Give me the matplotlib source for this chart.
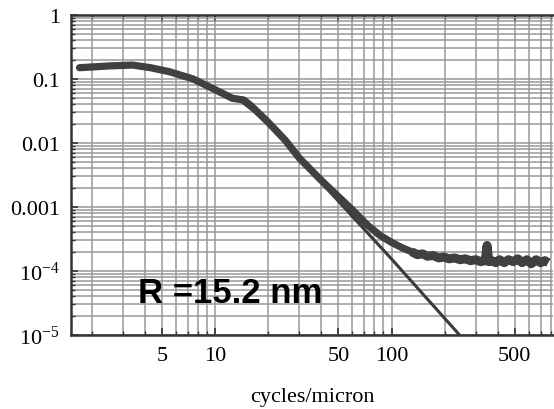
import matplotlib
matplotlib.use("Agg")
from matplotlib import pyplot as plt
from matplotlib.ticker import FixedLocator, NullFormatter

plt.rcParams['font.family'] = ['Liberation Serif', 'DejaVu Serif']
plt.rcParams['mathtext.fontset'] = 'stix'

data_f = [1.7, 2.5, 3.4, 4.3, 5.5, 7.5, 10, 12.5, 14.5, 16, 20, 25, 30, 40, 47, 60, 73, 86, 100, 115, 130]
data_v = [0.15, 0.16, 0.165, 0.15, 0.13, 0.10, 0.068, 0.05, 0.047, 0.038, 0.021, 0.011,
          0.0058, 0.0026, 0.0017, 0.0009, 0.00052, 0.00036, 0.00028, 0.00023, 0.0002]

# noisy floor at high frequency
noise_f = [130, 140, 150, 160, 172, 185, 198, 212, 228, 245, 262, 280, 300, 320, 340, 348, 356,
           370, 390, 410, 435, 460, 490, 520, 550, 585, 620, 660, 700, 740, 775]
noise_v = [2.0e-4, 1.8e-4, 1.85e-4, 1.7e-4, 1.75e-4, 1.6e-4, 1.65e-4, 1.55e-4, 1.6e-4, 1.5e-4,
           1.55e-4, 1.45e-4, 1.5e-4, 1.4e-4, 1.45e-4, 2.5e-4, 1.4e-4, 1.45e-4, 1.35e-4, 1.5e-4,
           1.35e-4, 1.5e-4, 1.4e-4, 1.55e-4, 1.35e-4, 1.5e-4, 1.3e-4, 1.5e-4, 1.35e-4, 1.45e-4, 1.35e-4]

# model fit
fit_f = [1.7, 3.4, 5.5, 7.5, 10, 14, 20, 26.7, 50, 100, 243]
fit_v = [0.15, 0.165, 0.13, 0.10, 0.068, 0.045, 0.021, 0.0081, 0.00123, 0.000154, 1.0e-5]

xticks = [5, 10, 50, 100, 500]
xlabels = ['5', '10', '50', '100', '500']
yticks = [1, 0.1, 0.01, 0.001, 1e-4, 1e-5]
ylabels = ['1', '0.1', '0.01', '0.001', r'$\mathregular{10^{-4}}$', r'$\mathregular{10^{-5}}$']

fig = plt.figure(figsize=(5.54, 4.10), dpi=100)
ax = fig.add_axes([0.128, 0.1805, 0.870, 0.7805])
ax.set_xscale('log')
ax.set_yscale('log')
ax.set_xlim(1.52, 822)
ax.set_ylim(1e-5, 1)

ax.plot(fit_f, fit_v, color='#3a3a3a', lw=2.2, solid_capstyle='butt', zorder=3)
ax.plot(data_f, data_v, color='#404040', lw=5.2, solid_capstyle='round', zorder=4)
ax.plot(noise_f, noise_v, color='#404040', lw=6.5, solid_joinstyle='round',
        solid_capstyle='butt', zorder=4)

ax.xaxis.set_major_locator(FixedLocator(xticks))
ax.set_xticklabels(xlabels)
minor_x = [m * d for d in [1, 10, 100] for m in range(1, 10) if 1.52 < m * d < 822]
ax.xaxis.set_minor_locator(FixedLocator(minor_x))
ax.xaxis.set_minor_formatter(NullFormatter())
ax.set_yticks(yticks)
ax.set_yticklabels(ylabels)
ax.yaxis.set_minor_formatter(NullFormatter())

ax.grid(True, which='both', color='#999999', lw=1.1)
ax.set_axisbelow(True)
ax.tick_params(which='both', direction='in', top=True, right=False, labelsize=16,
               color='#333333', pad=8)
ax.tick_params(which='major', length=5, width=1.2)
ax.tick_params(which='minor', length=3, width=1)
for side in ['top', 'bottom', 'left']:
    ax.spines[side].set_linewidth(1.8)
    ax.spines[side].set_color('#333333')
ax.spines['right'].set_visible(False)

ax.set_xlabel('cycles/micron', fontsize=16, labelpad=16)
ax.text(3.65, 3.3e-5, 'R =15.2 nm', family='Liberation Sans', fontweight='bold',
        fontsize=25, color='black', zorder=5)

fig.savefig('out.png', dpi=100)
